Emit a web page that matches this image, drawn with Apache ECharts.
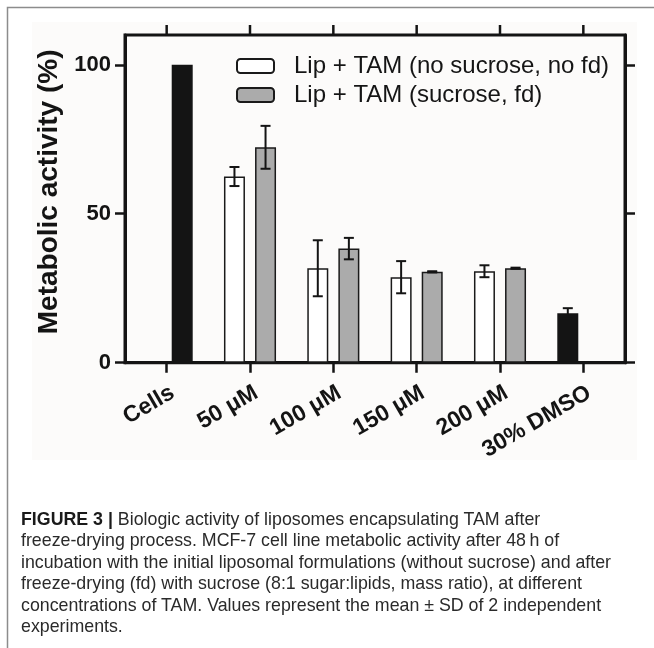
<!DOCTYPE html>
<html>
<head>
<meta charset="utf-8">
<script src="https://cdn.jsdelivr.net/npm/echarts@6/dist/echarts.min.js"></script>
<style>
  html, body { margin: 0; padding: 0; background: #ffffff; }
  #wrap { position: relative; width: 654px; height: 648px; overflow: hidden; }
  #chart { position: absolute; left: 0; top: 0; width: 654px; height: 648px; }
  #caption {
    position: absolute; left: 21px; top: 509px;
    font-family: "Liberation Sans", Arial, sans-serif;
    font-size: 17.8px; line-height: 21.4px; color: #2a2a2a; white-space: nowrap;
  }
  #caption b { font-weight: bold; color: #1a1a1a; }
</style>
</head>
<body>
<div id="wrap">
  <div id="chart"></div>
  <div id="caption"><b>FIGURE 3 |</b> Biologic activity of liposomes encapsulating TAM after<br>freeze-drying process. MCF-7 cell line metabolic activity after 48&#8201;h of<br>incubation with the initial liposomal formulations (without sucrose) and after<br>freeze-drying (fd) with sucrose (8:1 sugar:lipids, mass ratio), at different<br>concentrations of TAM. Values represent the mean &plusmn; SD of 2 independent<br>experiments.</div>
</div>
<script>
// ---- data ----
const categories = ['Cells', '50 \u03bcM', '100 \u03bcM', '150 \u03bcM', '200 \u03bcM', '30% DMSO'];
const controlCategories = ['Cells', '30% DMSO'];
const seriesNames = ['Lip + TAM (no sucrose, no fd)', 'Lip + TAM (sucrose, fd)'];
// column A (white) also holds the DMSO control, column B (grey) holds the Cells control
const meanA = [null, 62.5, 31.7, 28.7, 30.7, 16.6];
const sdA   = [null, 3.2, 9.4, 5.4, 2.0, 1.7];
const meanB = [100, 72.3, 38.3, 30.5, 31.7, null];
const sdB   = [0, 7.2, 3.6, 0.2, 0.2, null];
const yTicks = [0, 50, 100];
const yMax = 110;

// ---- styling ----
const BAR_W = 21, BAR_GAP = 0.48, CAP = 10, TICK_LEN = 10;
const OFFSET = BAR_W * (1 + BAR_GAP) / 2;
const INK = '#141414';
const FONT = '"Liberation Sans", Arial, Helvetica, sans-serif';

function barData(means) {
  return means.map((v, i) => {
    if (v === null) return '-';
    if (controlCategories.indexOf(categories[i]) >= 0) {
      return { value: v, itemStyle: { color: INK, borderColor: INK } };
    }
    return v;
  });
}
function errData(means, sds) {
  const out = [];
  means.forEach((m, i) => { if (m !== null && sds[i]) out.push([i, m, sds[i]]); });
  return out;
}
function errRender(sign) {
  return function (params, api) {
    const i = api.value(0), m = api.value(1), s = api.value(2);
    const top = api.coord([i, m + s]);
    const bot = api.coord([i, m - s]);
    const x = top[0] + sign * OFFSET;
    const st = { stroke: INK, lineWidth: 2 };
    return {
      type: 'group',
      children: [
        { type: 'line', shape: { x1: x, y1: top[1], x2: x, y2: bot[1] }, style: st },
        { type: 'line', shape: { x1: x - CAP / 2, y1: top[1], x2: x + CAP / 2, y2: top[1] }, style: st },
        { type: 'line', shape: { x1: x - CAP / 2, y1: bot[1], x2: x + CAP / 2, y2: bot[1] }, style: st }
      ]
    };
  };
}
// top-edge tick marks, one per category, placed through the category scale
function topTickRender(params, api) {
  const p = api.coord([api.value(0), api.value(1)]);
  return {
    type: 'rect',
    shape: { x: p[0] - 1.25, y: p[1] - TICK_LEN, width: 2.5, height: TICK_LEN },
    style: { fill: INK }
  };
}

const axisLineStyle = { color: INK, width: 3 };
const tickStyle = { color: INK, width: 2.5 };

const chart = echarts.init(document.getElementById('chart'), null, { renderer: 'canvas' });
chart.setOption({
  animation: false,
  backgroundColor: '#ffffff',
  textStyle: { fontFamily: FONT },
  graphic: [
    { type: 'rect', z: -10, silent: true, shape: { x: 32, y: 22, width: 605, height: 438 }, style: { fill: '#fcfbfa' } },
    { type: 'polyline', z: -5, silent: true, shape: { points: [[7.5, 648], [7.5, 7.5], [654, 7.5]] }, style: { stroke: '#8c8c8c', lineWidth: 1.5, fill: 'none' } }
  ],
  legend: {
    orient: 'vertical', left: 236, top: 54, padding: 0,
    itemWidth: 37, itemHeight: 14, itemGap: 5,
    data: seriesNames,
    textStyle: { fontFamily: FONT, fontSize: 24, lineHeight: 24, color: '#151515', padding: [0, 0, 0, 15] }
  },
  grid: { left: 125, top: 35, width: 500, height: 327.7, containLabel: false,
          show: true, borderColor: INK, borderWidth: 3, backgroundColor: 'transparent' },
  xAxis: {
    type: 'category', data: categories, position: 'bottom',
    axisLine: { onZero: false, lineStyle: axisLineStyle },
    axisTick: { show: true, alignWithLabel: true, length: TICK_LEN, lineStyle: tickStyle },
    axisLabel: {
      rotate: 30, margin: 32, interval: 0, color: INK, fontFamily: FONT,
      fontSize: 23, fontWeight: 'bold', padding: [0, -7, 0, 0]
    }
  },
  yAxis: [
    {
      type: 'value', min: 0, max: yMax, position: 'left',
      name: 'Metabolic activity (%)', nameLocation: 'middle', nameRotate: 90, nameGap: 62,
      nameTextStyle: { fontFamily: FONT, fontSize: 28, fontWeight: 'bold', color: INK, padding: [0, 0, 0, 14] },
      axisLine: { show: true, onZero: false, lineStyle: axisLineStyle },
      axisTick: { show: true, length: TICK_LEN, lineStyle: tickStyle, customValues: yTicks },
      axisLabel: { margin: 14, color: INK, fontFamily: FONT, fontSize: 22, fontWeight: 'bold', customValues: yTicks },
      splitLine: { show: false }
    },
    {
      type: 'value', min: 0, max: yMax, position: 'right',
      axisLine: { show: true, onZero: false, lineStyle: axisLineStyle },
      axisTick: { show: true, length: TICK_LEN, lineStyle: tickStyle, customValues: yTicks },
      axisLabel: { show: false, customValues: yTicks },
      splitLine: { show: false }
    }
  ],
  series: [
    {
      name: seriesNames[0], type: 'bar', barWidth: BAR_W, barGap: (BAR_GAP * 100) + '%',
      itemStyle: { color: '#ffffff', borderColor: '#1a1a1a', borderWidth: 1.5 },
      data: barData(meanA)
    },
    {
      name: seriesNames[1], type: 'bar', barWidth: BAR_W, barGap: (BAR_GAP * 100) + '%',
      itemStyle: { color: '#ababab', borderColor: '#1a1a1a', borderWidth: 1.5 },
      data: barData(meanB)
    },
    {
      type: 'custom', z: 5, renderItem: errRender(-1), encode: { x: 0, y: 1 },
      data: errData(meanA, sdA), silent: true
    },
    {
      type: 'custom', z: 5, renderItem: errRender(1), encode: { x: 0, y: 1 },
      data: errData(meanB, sdB), silent: true
    },
    {
      type: 'custom', z: 20, renderItem: topTickRender, encode: { x: 0, y: 1 }, clip: false,
      data: categories.map((c, i) => [i, yMax]), silent: true
    }
  ]
});
</script>
</body>
</html>
